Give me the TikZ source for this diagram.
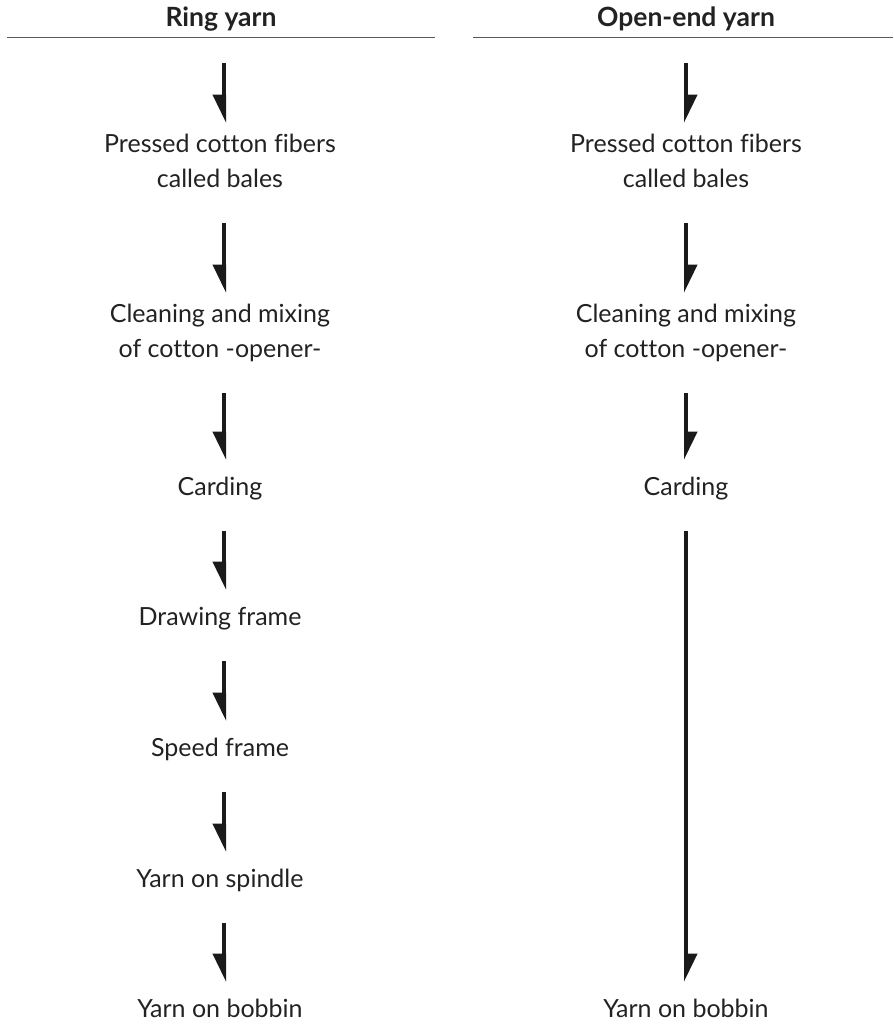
\documentclass[tikz,border=0pt]{standalone}
\usepackage{fontspec}
\setmainfont{Lato}[Ligatures=NoCommon]
\usetikzlibrary{arrows.meta}
\definecolor{inkline}{HTML}{1A1A1A}
\definecolor{inktext}{HTML}{222222}
\tikzset{
	stage/.style={align=center, inner sep=0pt, anchor=north, text=inktext,
		font=\fontsize{25}{35}\selectfont, execute at begin node=\strut, execute at end node=\strut},
	colhead/.style={anchor=base, inner sep=0pt, text=inktext, font=\fontsize{26.5}{30}\selectfont\bfseries},
	ringarrow/.style={draw=inkline, line width=4pt, shorten <=25.5pt, shorten >=10.5pt,
		-{Triangle[harpoon, swap, length=24pt 0, width=22pt 0]}},
	oearrow/.style={draw=inkline, line width=4pt, shorten <=25.5pt, shorten >=10.5pt,
		-{Triangle[harpoon, length=24pt 0, width=22pt 0]}}
}
\begin{document}
\begin{tikzpicture}[x=1pt, y=-1pt]
			%%%%% START %%%%%
			\useasboundingbox (0, 0) rectangle (893, 1024);
			
			\node[colhead] (ringhead) at (221, 27) {Ring yarn};
			\node[colhead] (oehead) at (686, 27) {Open-end yarn};
			\draw[line width=1pt, color=black!65] (7, 38) -- (435, 38);
			\draw[line width=1pt, color=black!65] (473, 38) -- (893, 38);
			\coordinate (ringtop) at (224, 38);
			\coordinate (oetop) at (686, 38);
			
			% ring yarn
			\node[stage] (ringbales) at (220, 133.5) {Pressed cotton fibers\\called bales};
			\node[stage] (ringopen) at (220, 303.5) {Cleaning and mixing\\of cotton -opener-};
			\node[stage] (ringcard) at (220, 470.5) {Carding};
			\node[stage] (ringdraw) at (220, 600.5) {Drawing frame};
			\node[stage] (ringspeed) at (220, 731.5) {Speed frame};
			\node[stage] (ringspindle) at (220, 862.5) {Yarn on spindle};
			\node[stage] (ringbobbin) at (220, 992.5) {Yarn on bobbin};
			
			\draw[ringarrow] (ringtop) -- ([xshift=4pt]ringbales.north);
			\draw[ringarrow] ([xshift=4pt]ringbales.south) -- ([xshift=4pt]ringopen.north);
			\draw[ringarrow] ([xshift=4pt]ringopen.south) -- ([xshift=4pt]ringcard.north);
			\draw[ringarrow] ([xshift=4pt]ringcard.south) -- ([xshift=4pt]ringdraw.north);
			\draw[ringarrow] ([xshift=4pt]ringdraw.south) -- ([xshift=4pt]ringspeed.north);
			\draw[ringarrow] ([xshift=4pt]ringspeed.south) -- ([xshift=4pt]ringspindle.north);
			\draw[ringarrow] ([xshift=4pt]ringspindle.south) -- ([xshift=4pt]ringbobbin.north);
			
			% open-end yarn
			\node[stage] (oebales) at (686, 133.5) {Pressed cotton fibers\\called bales};
			\node[stage] (oeopen) at (686, 303.5) {Cleaning and mixing\\of cotton -opener-};
			\node[stage] (oecard) at (686, 470.5) {Carding};
			\node[stage] (oebobbin) at (686, 992.5) {Yarn on bobbin};
			
			\draw[oearrow] (oetop) -- (oebales.north);
			\draw[oearrow] (oebales.south) -- (oeopen.north);
			\draw[oearrow] (oeopen.south) -- (oecard.north);
			\draw[oearrow] (oecard.south) -- (oebobbin.north);
			%%%%% END %%%%%
\end{tikzpicture}
\end{document}
